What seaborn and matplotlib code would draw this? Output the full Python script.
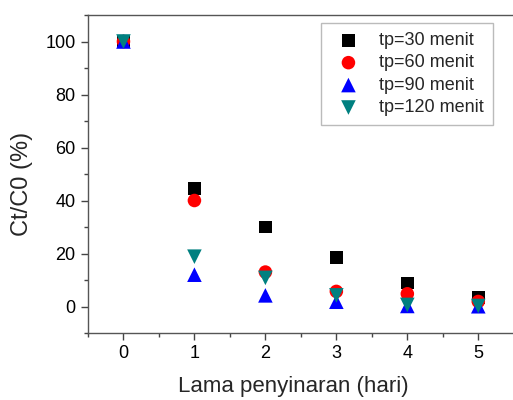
import pandas as pd
import numpy as np
import seaborn as sns
import matplotlib.pyplot as plt
from matplotlib.ticker import MultipleLocator

# data
hari = [0, 1, 2, 3, 4, 5]
tp30 = [100, 44.5, 30, 18.6, 8.9, 3.4]
tp60 = [100, 40, 13, 5.7, 4.8, 1.9]
tp90 = [100, 12, 4.2, 1.8, 0.2, 0.1]
tp120 = [100, 18.8, 10.8, 4.2, 0.6, 0.2]
labels = ['tp=30 menit', 'tp=60 menit', 'tp=90 menit', 'tp=120 menit']
warna = ['black', 'red', 'blue', '#008080']
penanda = ['s', 'o', '^', 'v']
ukuran = [85, 95, 110, 110]

sns.set_style('ticks')
plt.rcParams['font.family'] = ['Liberation Sans', 'DejaVu Sans']

fig = plt.figure(figsize=(5.13, 4.0), dpi=100)
ax = fig.add_axes([0.1715, 0.1675, 0.83, 0.795])

for vals, lab, c, m, s in zip([tp30, tp60, tp90, tp120], labels, warna, penanda, ukuran):
    df = pd.DataFrame({'hari': hari, 'ct': vals})
    sns.scatterplot(data=df, x='hari', y='ct', ax=ax, label=lab, color=c,
                    marker=m, s=s, edgecolor='none', linewidth=0)

ax.set_xlim(-0.5, 5.5)
ax.set_ylim(-10, 110)
ax.set_xticks(hari)
ax.set_yticks([0, 20, 40, 60, 80, 100])
ax.xaxis.set_minor_locator(MultipleLocator(0.5))
ax.yaxis.set_minor_locator(MultipleLocator(10))
ax.tick_params(which='major', direction='out', length=5, width=1, labelsize=13,
               color='#444444', labelcolor='black', pad=4)
ax.tick_params(which='minor', direction='out', length=3, width=1, color='#444444')
for sp in ax.spines.values():
    sp.set_visible(True)
    sp.set_color('#555555')
    sp.set_linewidth(1)

ax.set_xlabel('Lama penyinaran (hari)', fontsize=16)
ax.set_ylabel('Ct/C0 (%)', fontsize=17)
ax.xaxis.set_label_coords(0.483, -0.135)
ax.yaxis.set_label_coords(-0.129, 0.47)

leg = ax.legend(loc='upper right', bbox_to_anchor=(0.951, 0.975), fontsize=13,
                frameon=True, fancybox=False, handletextpad=0.7, borderpad=0.5,
                labelspacing=0.3, handlelength=2.0, borderaxespad=0)
leg.get_frame().set_edgecolor('#aaaaaa')
leg.get_frame().set_linewidth(1)

fig.savefig('out.png', dpi=100)
